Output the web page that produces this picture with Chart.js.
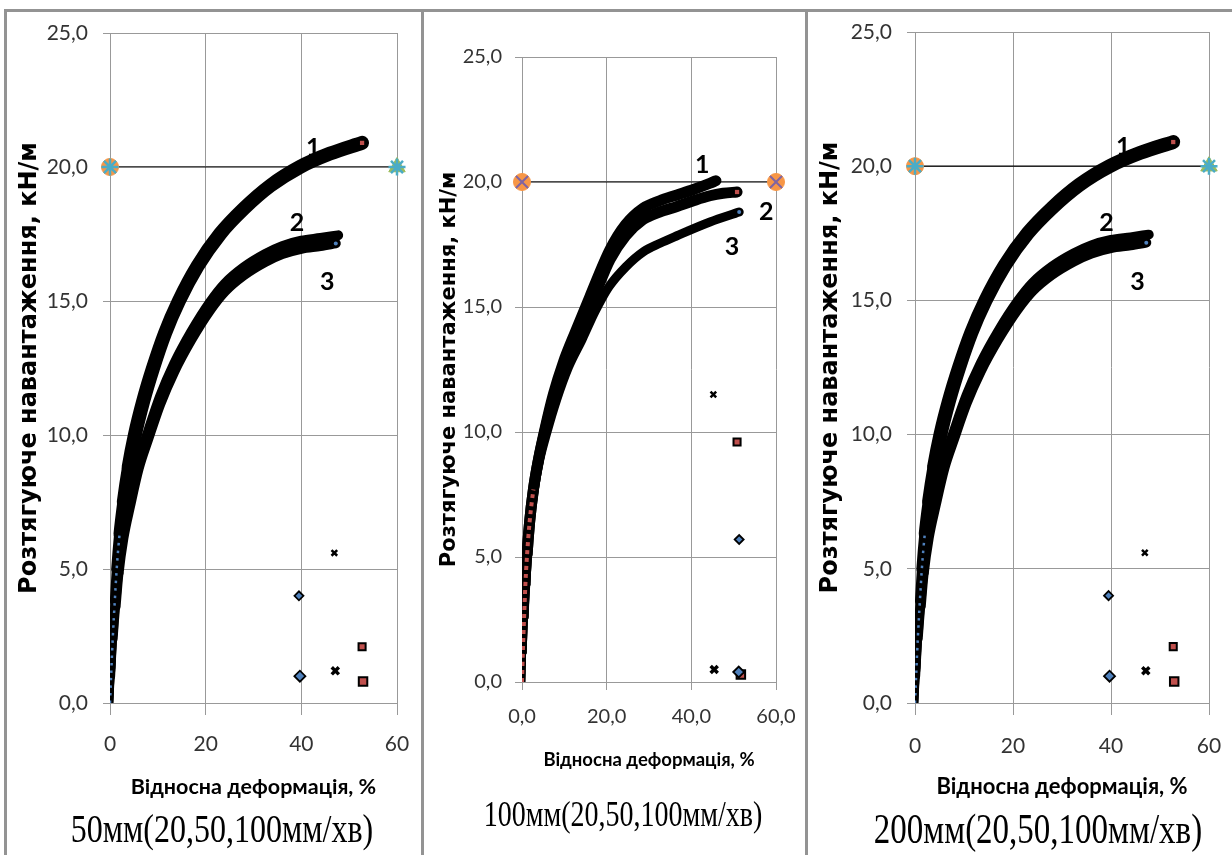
<!DOCTYPE html>
<html><head><meta charset="utf-8">
<script src="https://cdn.jsdelivr.net/npm/chart.js@4.4.1/dist/chart.umd.min.js"></script>
<style>
html,body{margin:0;padding:0;background:#fff;}
body{width:1232px;height:855px;position:relative;overflow:hidden;}
.frame{position:absolute;background:#939393;}
canvas{position:absolute;}
.sub{position:absolute;font-family:"Liberation Serif","Times New Roman",serif;color:#000;white-space:nowrap;transform:translate(-50%,-50%) scaleY(1.25);line-height:1;}
</style></head><body>
<div class="frame" style="left:4px;top:9px;width:3px;height:846px"></div>
<div class="frame" style="left:4px;top:9px;width:1228px;height:3px"></div>
<div class="frame" style="left:421px;top:9px;width:3px;height:846px"></div>
<div class="frame" style="left:805px;top:9px;width:3px;height:846px"></div>
<canvas id="c1" width="412" height="843" style="left:9px;top:12px"></canvas>
<canvas id="c2" width="378" height="843" style="left:426px;top:12px"></canvas>
<canvas id="c3" width="422" height="843" style="left:810px;top:12px"></canvas>
<div class="sub" style="left:222px;top:828px;font-size:32px">50мм(20,50,100мм/хв)</div>
<div class="sub" style="left:623px;top:815px;font-size:28px">100мм(20,50,100мм/хв)</div>
<div class="sub" style="left:1038px;top:830px;font-size:33px">200мм(20,50,100мм/хв)</div>
<script>
// ================= DATA =================
const yTitle = 'Розтягуюче навантаження, кН/м';
const xTitle = 'Відносна деформація, %';
const refLineX = [0, 60];
const refLineY = [20, 20];

// ---- Panel 1: 50 мм ----
const p1Curve1X = [0, 0.3, 0.6, 1.0, 1.4, 2.0, 2.8, 3.9, 5.2, 7.0, 9.0, 11.5, 14.4, 18.3, 23, 28, 33.5, 39.7, 46, 52.7];
const p1Curve1Y = [0, 1.3, 2.5, 3.8, 5.0, 6.3, 7.5, 8.8, 10, 11.3, 12.5, 13.8, 15, 16.3, 17.5, 18.45, 19.3, 20, 20.5, 20.9];
const p1Curve2X = [0, 0.3, 0.7, 1.2, 1.8, 2.8, 4.2, 6.0, 8.0, 10.5, 13.4, 17, 20.9, 24, 27.9, 32.4, 36, 40, 44, 47.7];
const p1Curve2Y = [0, 1.2, 2.6, 3.9, 5.15, 6.45, 7.65, 9.05, 10.15, 11.45, 12.65, 13.85, 14.95, 15.65, 16.25, 16.75, 17.05, 17.25, 17.35, 17.45];
const p1Curve3X = [0, 0.3, 0.7, 1.2, 1.8, 2.8, 4.2, 6.0, 8.0, 10.5, 13.4, 17, 20.9, 24, 27.9, 32.4, 36, 40, 44, 47.2];
const p1Curve3Y = [0, 1.0, 2.4, 3.6, 4.85, 6.15, 7.35, 8.75, 9.85, 11.15, 12.35, 13.55, 14.65, 15.35, 15.95, 16.45, 16.75, 16.95, 17.05, 17.15];
const p1DiamondX = [39.5, 39.7];
const p1DiamondY = [4.0, 1.0];
const p1CrossX = [46.9, 47.1];
const p1CrossY = [5.6, 1.2];
const p1SquareX = [52.7, 52.9];
const p1SquareY = [2.1, 0.8];
const p1LabelText = ['1', '2', '3'];
const p1LabelX = [42.5, 39.1, 45.4];
const p1LabelY = [20.7, 17.9, 15.7];

// ---- Panel 2: 100 мм ----
const p2Curve1X = [0, 0.2, 0.5, 0.8, 1.2, 1.8, 2.7, 3.9, 5.4, 7.4, 9.8, 12.6, 16, 20.8, 24.5, 28.6, 32.5, 36.6, 40.5, 44.4, 45.8];
const p2Curve1Y = [0, 1.2, 2.6, 3.9, 5.1, 6.4, 7.7, 8.9, 10.1, 11.5, 12.8, 14, 15.4, 17.3, 18.3, 18.95, 19.25, 19.48, 19.7, 19.95, 20.05];
const p2Curve2X = [0, 0.2, 0.5, 0.8, 1.2, 1.8, 2.7, 3.9, 5.5, 7.6, 10.1, 13, 16.5, 20.8, 24.5, 28.6, 32.5, 36.6, 40.5, 44.4, 47.5, 50.8];
const p2Curve2Y = [0, 1.2, 2.6, 3.9, 5.1, 6.4, 7.7, 8.9, 10.1, 11.5, 12.8, 14, 15.2, 16.9, 17.85, 18.5, 18.8, 19.02, 19.25, 19.45, 19.55, 19.6];
const p2Curve3X = [0, 0.2, 0.5, 0.9, 1.3, 1.9, 2.9, 4.2, 5.9, 8.2, 11, 14.2, 17.2, 20.5, 24.5, 28.6, 32.6, 36.6, 44.4, 51.3];
const p2Curve3Y = [0, 1.2, 2.6, 3.9, 5.1, 6.4, 7.7, 8.9, 10, 11.3, 12.6, 13.7, 14.8, 15.8, 16.6, 17.2, 17.55, 17.85, 18.4, 18.8];
const p2DiamondX = [51.3, 51.2];
const p2DiamondY = [5.7, 0.4];
const p2CrossX = [45.2, 45.4];
const p2CrossY = [11.5, 0.5];
const p2SquareX = [50.8, 51.7];
const p2SquareY = [9.6, 0.3];
const p2LabelText = ['1', '2', '3'];
const p2LabelX = [42.6, 57.7, 49.6];
const p2LabelY = [20.7, 18.8, 17.4];

// ---- Panel 3: 200 мм (reads the same as panel 1) ----
const p3Curve1X = [0, 0.3, 0.6, 1.0, 1.4, 2.0, 2.8, 3.9, 5.2, 7.0, 9.0, 11.5, 14.4, 18.3, 23, 28, 33.5, 39.7, 46, 52.7];
const p3Curve1Y = [0, 1.3, 2.5, 3.8, 5.0, 6.3, 7.5, 8.8, 10, 11.3, 12.5, 13.8, 15, 16.3, 17.5, 18.45, 19.3, 20, 20.5, 20.9];
const p3Curve2X = [0, 0.3, 0.7, 1.2, 1.8, 2.8, 4.2, 6.0, 8.0, 10.5, 13.4, 17, 20.9, 24, 27.9, 32.4, 36, 40, 44, 47.7];
const p3Curve2Y = [0, 1.2, 2.6, 3.9, 5.15, 6.45, 7.65, 9.05, 10.15, 11.45, 12.65, 13.85, 14.95, 15.65, 16.25, 16.75, 17.05, 17.25, 17.35, 17.45];
const p3Curve3X = [0, 0.3, 0.7, 1.2, 1.8, 2.8, 4.2, 6.0, 8.0, 10.5, 13.4, 17, 20.9, 24, 27.9, 32.4, 36, 40, 44, 47.2];
const p3Curve3Y = [0, 1.0, 2.4, 3.6, 4.85, 6.15, 7.35, 8.75, 9.85, 11.15, 12.35, 13.55, 14.65, 15.35, 15.95, 16.45, 16.75, 16.95, 17.05, 17.15];
const p3DiamondX = [39.5, 39.7];
const p3DiamondY = [4.0, 1.0];
const p3CrossX = [46.9, 47.1];
const p3CrossY = [5.6, 1.2];
const p3SquareX = [52.7, 52.9];
const p3SquareY = [2.1, 0.8];
const p3LabelText = ['1', '2', '3'];
const p3LabelX = [42.5, 39.1, 45.4];
const p3LabelY = [20.7, 17.9, 15.7];

// ================= RENDERING =================
const BLUE = '#4F81BD', RED = '#C0504D', GREEN = '#9BBB59', PURPLE = '#8064A2', CYAN = '#4BACC6', ORANGE = '#F79646';
const GRID = '#999999';
const pts = (xs, ys) => xs.map((x, i) => ({x, y: ys[i]}));
const fmt1 = v => Number(v).toFixed(1).replace('.', ',');

const curveLabels = {
  id: 'curveLabels',
  afterDatasetsDraw(chart, args, opts) {
    const {ctx, scales: {x, y}} = chart;
    ctx.save();
    ctx.font = opts.font;
    ctx.fillStyle = '#000';
    ctx.textAlign = 'center';
    ctx.textBaseline = 'middle';
    opts.text.forEach((t, i) => ctx.fillText(t, x.getPixelForValue(opts.xs[i]), y.getPixelForValue(opts.ys[i])));
    ctx.restore();
  }
};

function bandWidth(maxW) {
  return c => Math.min(maxW, 6.5 + c.p0.parsed.y * 0.9);
}
function curve(xs, ys, maxW) {
  return {data: pts(xs, ys), showLine: true, borderColor: '#000', borderWidth: maxW,
    borderCapStyle: 'round', borderJoinStyle: 'round', cubicInterpolationMode: 'monotone',
    pointRadius: 0, segment: {borderWidth: bandWidth(maxW)}, order: 3};
}
// coloured marker fill showing through the low, thin part of a dense series
function markerTrace(xs, ys, color, limit, w, dash) {
  return {data: pts(xs, ys), showLine: true, borderWidth: w, borderDash: dash, borderCapStyle: 'butt',
    cubicInterpolationMode: 'monotone', pointRadius: 0, borderColor: color,
    segment: {borderColor: c => c.p0.parsed.y < limit ? color : 'rgba(0,0,0,0)'}, order: 2};
}

function buildPanel(id, p) {
  const ds = [];
  ds.push({data: pts(refLineX, refLineY), showLine: true, borderColor: '#000', borderWidth: 1.2, pointRadius: 0, order: 6, clip: false});
  if (p.refStyle === 'a') {
    ds.push({data: [{x: refLineX[0], y: refLineY[0]}], pointStyle: 'circle', pointRadius: 8.5, backgroundColor: ORANGE, borderColor: ORANGE, order: 2, clip: false});
    ds.push({data: [{x: refLineX[1], y: refLineY[1]}], pointStyle: 'triangle', pointRadius: 9.5, backgroundColor: GREEN, borderColor: GREEN, order: 2, clip: false});
    ds.push({data: pts(refLineX, refLineY), pointStyle: 'star', pointRadius: 8.5, borderColor: CYAN, borderWidth: 2.5, backgroundColor: CYAN, order: 1, clip: false});
  } else {
    ds.push({data: pts(refLineX, refLineY), pointStyle: 'circle', pointRadius: 8.5, backgroundColor: ORANGE, borderColor: ORANGE, order: 2, clip: false});
    ds.push({data: pts(refLineX, refLineY), pointStyle: 'crossRot', pointRadius: 8.5, borderColor: PURPLE, borderWidth: 2, order: 1, clip: false});
  }
  ds.push(curve(p.c1x, p.c1y, p.w1));
  ds.push(curve(p.c2x, p.c2y, p.w2));
  ds.push(curve(p.c3x, p.c3y, p.w3));
  ds.push(markerTrace(p.tx, p.ty, p.tColor, p.tLimit, p.tW, p.tDash));
  ds.push({data: pts(p.dx, p.dy), pointStyle: 'rectRot', pointRadius: [4.5, 5.5], backgroundColor: BLUE, borderColor: '#000', borderWidth: 1.8, order: 1});
  ds.push({data: pts(p.xx, p.xy), pointStyle: 'crossRot', pointRadius: [4, 5], borderColor: '#000', borderWidth: [2.5, 3.5], order: 1});
  ds.push({data: pts(p.sx, p.sy), pointStyle: 'rect', pointRadius: [5, 6], backgroundColor: RED, borderColor: '#000', borderWidth: 2, order: 1});
  // coloured markers at the ends of the dense series
  ds.push({data: [{x: p.c1x[p.c1x.length - 1], y: p.c1y[p.c1y.length - 1]}], pointStyle: 'rect', pointRadius: p.endR1, backgroundColor: RED, borderWidth: 0, order: 0});
  ds.push({data: [{x: p.c3x[p.c3x.length - 1], y: p.c3y[p.c3y.length - 1]}], pointStyle: 'circle', pointRadius: 2, backgroundColor: BLUE, borderWidth: 0, order: 0});
  if (p.endR2) ds.push({data: [{x: p.c2x[p.c2x.length - 1], y: p.c2y[p.c2y.length - 1]}], pointStyle: 'rect', pointRadius: p.endR2, backgroundColor: RED, borderWidth: 0, order: 0});

  const L = p.lay;
  new Chart(document.getElementById(id), {
    type: 'scatter',
    data: {datasets: ds},
    plugins: [curveLabels],
    options: {
      responsive: false, animation: false, devicePixelRatio: 1,
      layout: {padding: {left: 0, right: L.right, top: L.top, bottom: L.bottom}},
      plugins: {legend: {display: false}, tooltip: {enabled: false},
        curveLabels: {text: p.lt, xs: p.lx, ys: p.ly, font: L.labelFont}},
      scales: {
        x: {type: 'linear', min: 0, max: 60,
          ticks: {stepSize: 20, maxRotation: 0, autoSkip: false, padding: L.xPad, color: '#333333',
            font: {family: 'Lato', size: L.tickSize}, callback: p.xFmt},
          grid: {color: GRID, lineWidth: 1, tickLength: L.xTl, drawTicks: true},
          border: {color: GRID, width: 1},
          title: {display: true, text: xTitle, color: '#000', font: {family: 'Lato', size: L.xTitleSize, weight: 'bold'}, padding: {top: 0, bottom: L.xTitlePb}},
          afterFit: s => { s.height = L.xH; s.paddingLeft = 0; s.paddingRight = 0; }
        },
        y: {type: 'linear', min: 0, max: 25,
          ticks: {stepSize: 5, padding: L.yPad, color: '#333333', font: {family: 'Lato', size: L.tickSize}, callback: v => fmt1(v)},
          grid: {color: GRID, lineWidth: 1, tickLength: L.yTl, drawTicks: true},
          border: {color: GRID, width: 1},
          title: {display: true, text: yTitle, color: '#000', font: {family: 'DejaVu Sans', size: L.yTitleSize, weight: 'bold'}, padding: {top: L.yTitlePt, bottom: 0}},
          afterFit: s => { s.width = L.yW; s.paddingTop = 0; s.paddingBottom = 0; }
        }
      }
    }
  });
}

buildPanel('c1', {
  refStyle: 'a', c1x: p1Curve1X, c1y: p1Curve1Y, c2x: p1Curve2X, c2y: p1Curve2Y, c3x: p1Curve3X, c3y: p1Curve3Y,
  w1: 14, w2: 10, w3: 10, endR1: 3, endR2: 0,
  tx: p1Curve1X, ty: p1Curve1Y, tColor: BLUE, tLimit: 6, tW: 2.5, tDash: [2.5, 5],
  dx: p1DiamondX, dy: p1DiamondY, xx: p1CrossX, xy: p1CrossY, sx: p1SquareX, sy: p1SquareY,
  lt: p1LabelText, lx: p1LabelX, ly: p1LabelY, xFmt: v => String(v),
  lay: {right: 24, top: 21, bottom: 42, xH: 110, yW: 101, xPad: 17, xTl: 12, yPad: 15, yTl: 7,
    tickSize: 21, xTitleSize: 21.5, xTitlePb: 13, yTitleSize: 24, yTitlePt: 6, labelFont: 'bold 25px Lato'}
});
buildPanel('c2', {
  refStyle: 'b', c1x: p2Curve1X, c1y: p2Curve1Y, c2x: p2Curve2X, c2y: p2Curve2Y, c3x: p2Curve3X, c3y: p2Curve3Y,
  w1: 11, w2: 11, w3: 9, endR1: 0.01, endR2: 3,
  tx: p2Curve2X, ty: p2Curve2Y, tColor: RED, tLimit: 7, tW: 4, tDash: [4, 4],
  dx: p2DiamondX, dy: p2DiamondY, xx: p2CrossX, xy: p2CrossY, sx: p2SquareX, sy: p2SquareY,
  lt: p2LabelText, lx: p2LabelX, ly: p2LabelY, xFmt: v => fmt1(v),
  lay: {right: 28, top: 45, bottom: 73, xH: 100, yW: 96, xPad: 15, xTl: 8, yPad: 13, yTl: 7,
    tickSize: 20, xTitleSize: 18.5, xTitlePb: 11, yTitleSize: 21, yTitlePt: 11, labelFont: 'bold 25px Lato'}
});
buildPanel('c3', {
  refStyle: 'a', c1x: p3Curve1X, c1y: p3Curve1Y, c2x: p3Curve2X, c2y: p3Curve2Y, c3x: p3Curve3X, c3y: p3Curve3Y,
  w1: 14, w2: 10, w3: 10, endR1: 3, endR2: 0,
  tx: p3Curve1X, ty: p3Curve1Y, tColor: BLUE, tLimit: 6, tW: 2.5, tDash: [2.5, 5],
  dx: p3DiamondX, dy: p3DiamondY, xx: p3CrossX, xy: p3CrossY, sx: p3SquareX, sy: p3SquareY,
  lt: p3LabelText, lx: p3LabelX, ly: p3LabelY, xFmt: v => String(v),
  lay: {right: 23, top: 20, bottom: 42, xH: 110, yW: 105, xPad: 19, xTl: 12, yPad: 15, yTl: 8,
    tickSize: 21, xTitleSize: 22, xTitlePb: 13, yTitleSize: 24, yTitlePt: 6, labelFont: 'bold 25px Lato'}
});
</script>
</body></html>
